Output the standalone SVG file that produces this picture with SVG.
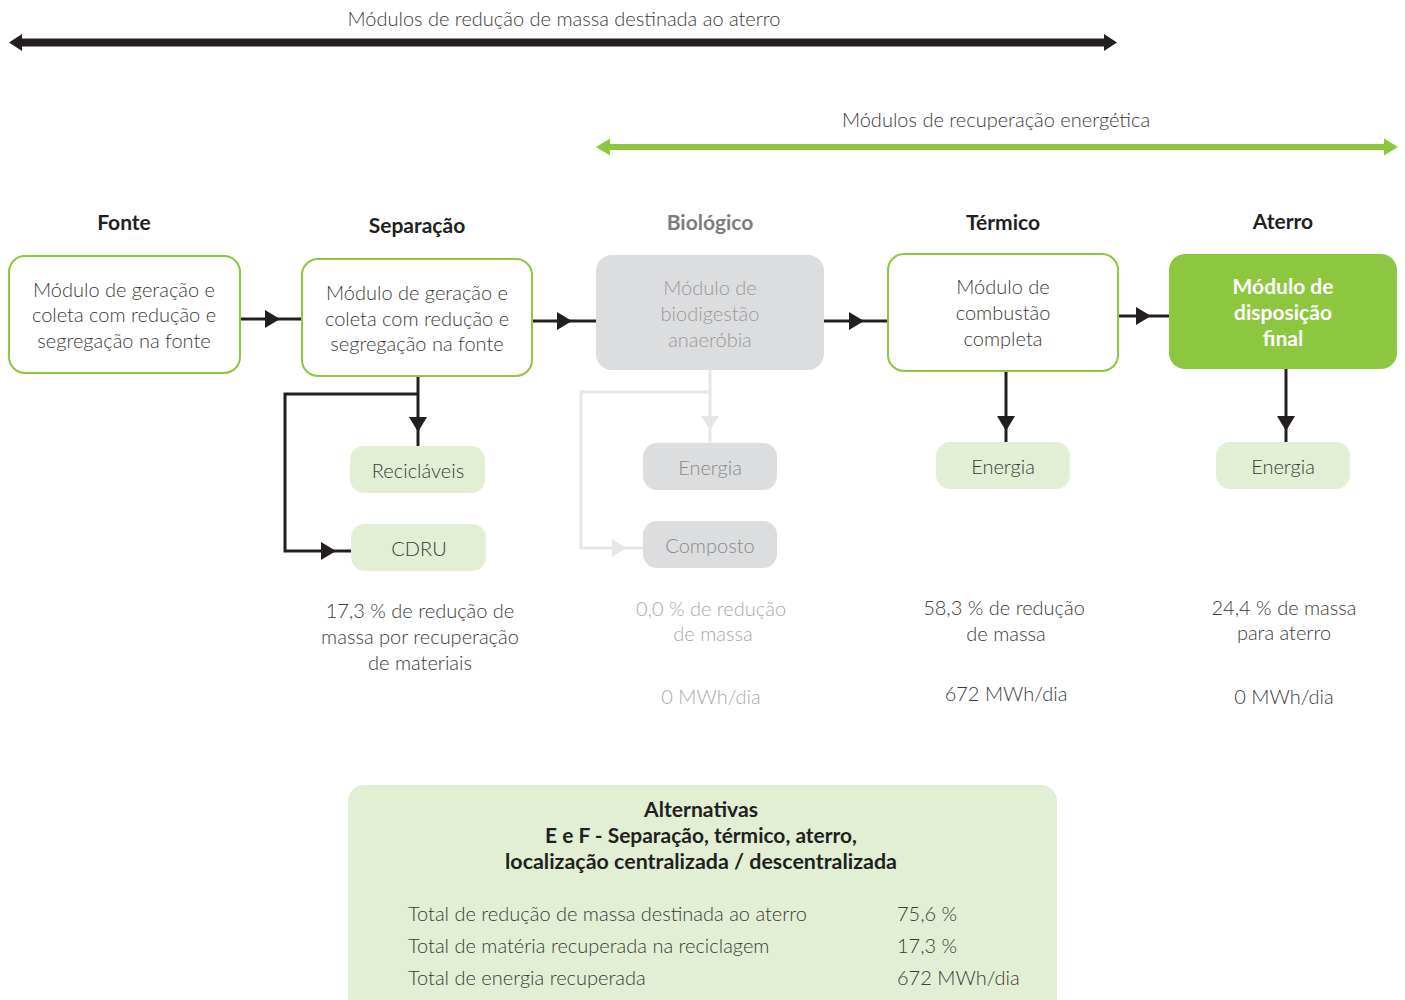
<svg xmlns="http://www.w3.org/2000/svg" width="1405" height="1000" viewBox="0 0 1405 1000">
<style>
  text { font-family: Lato, "Open Sans", "Liberation Sans", sans-serif; }
  .t { font-size: 20px; fill: #3a3a3a; text-anchor: middle; font-weight: 300; }
  .g { font-size: 20px; fill: #a8a8a8; text-anchor: middle; font-weight: 300; }
  .h { font-size: 21px; fill: #231f20; text-anchor: middle; font-weight: 700; }
  .hg { font-size: 21px; fill: #7d7d7d; text-anchor: middle; font-weight: 700; }
  .w { font-size: 21px; fill: #ffffff; text-anchor: middle; font-weight: 700; }
  .l { font-size: 20px; fill: #3a3a3a; font-weight: 300; }
  .box { fill: #ffffff; stroke: #8dc63f; stroke-width: 2; }
  .boxg { fill: #dcdddf; }
  .boxf { fill: #8dc63f; }
  .pill { fill: #e2efd5; }
  .pillg { fill: #dcdddf; }
  .c { fill: none; stroke: #231f20; stroke-width: 3; }
  .cg { fill: none; stroke: #e6e6e6; stroke-width: 3; }
  .ah { fill: #231f20; }
  .ahg { fill: #e6e6e6; }
</style>

<g id="range-arrows">
  <text x="564" y="26" class="t">Módulos de redução de massa destinada ao aterro</text>
  <rect x="20" y="38.500" width="1086" height="8" fill="#231f20"/>
  <polygon points="9,42.500 22,34 22,51" fill="#231f20"/>
  <polygon points="1117,42.500 1104,34 1104,51" fill="#231f20"/>
  <text x="996" y="127" class="t">Módulos de recuperação energética</text>
  <rect x="606" y="144" width="782" height="6" fill="#8dc63f"/>
  <polygon points="596,147 610,138.500 610,155.500" fill="#8dc63f"/>
  <polygon points="1398,147 1384,138.500 1384,155.500" fill="#8dc63f"/>
</g>

<g id="connectors">
  <path class="c" d="M240,319 H302"/>
  <polygon class="ah" points="280,319 265,310 265,328"/>
  <path class="c" d="M532,321 H596"/>
  <polygon class="ah" points="572,321 557,312 557,330"/>
  <path class="c" d="M824,321 H888"/>
  <polygon class="ah" points="864,321 849,312 849,330"/>
  <path class="c" d="M1118,316 H1169"/>
  <polygon class="ah" points="1151,316 1136,307 1136,325"/>

  <path class="c" d="M418,376 V446"/>
  <polygon class="ah" points="418,432 409,417 427,417"/>
  <path class="c" d="M418,394 H285 V551 H351"/>
  <polygon class="ah" points="336,551 321,542 321,560"/>

  <path class="cg" d="M710,370 V443"/>
  <polygon class="ahg" points="710,430 701,416 719,416"/>
  <path class="cg" d="M710,392 H581 V548 H643"/>
  <polygon class="ahg" points="626,548 612,539 612,557"/>

  <path class="c" d="M1006,371 V442"/>
  <polygon class="ah" points="1006,431 997,416 1015,416"/>
  <path class="c" d="M1286,369 V442"/>
  <polygon class="ah" points="1286,431 1277,416 1295,416"/>
</g>

<g id="fonte">
  <text x="124" y="230" class="h">Fonte</text>
  <rect x="9" y="256" width="231" height="117" rx="16" class="box"/>
  <text x="124" y="297" class="t">Módulo de geração e</text>
  <text x="124" y="322" class="t">coleta com redução e</text>
  <text x="124" y="348" class="t">segregação na fonte</text>
</g>

<g id="separacao">
  <text x="417" y="233" class="h">Separação</text>
  <rect x="302" y="259" width="230" height="117" rx="16" class="box"/>
  <text x="417" y="300" class="t">Módulo de geração e</text>
  <text x="417" y="326" class="t">coleta com redução e</text>
  <text x="417" y="351" class="t">segregação na fonte</text>
</g>

<g id="biologico">
  <text x="710" y="230" class="hg">Biológico</text>
  <rect x="596" y="255" width="228" height="115" rx="16" class="boxg"/>
  <text x="710" y="295" class="g" style="fill:#9a9a9a">Módulo de</text>
  <text x="710" y="321" class="g" style="fill:#9a9a9a">biodigestão</text>
  <text x="710" y="347" class="g" style="fill:#9a9a9a">anaeróbia</text>
</g>

<g id="termico">
  <text x="1003" y="230" class="h">Térmico</text>
  <rect x="888" y="254" width="230" height="117" rx="16" class="box"/>
  <text x="1003" y="294" class="t">Módulo de</text>
  <text x="1003" y="320" class="t">combustão</text>
  <text x="1003" y="346" class="t">completa</text>
</g>

<g id="aterro">
  <text x="1283" y="229" class="h">Aterro</text>
  <rect x="1169" y="254" width="228" height="115" rx="16" class="boxf"/>
  <text x="1283" y="294" class="w">Módulo de</text>
  <text x="1283" y="320" class="w">disposição</text>
  <text x="1283" y="346" class="w">final</text>
</g>

<g id="reciclaveis">
  <rect x="350" y="446" width="135" height="47" rx="14" class="pill"/>
  <text x="418" y="478" class="t">Recicláveis</text>
</g>
<g id="cdru">
  <rect x="351" y="524" width="135" height="47" rx="14" class="pill"/>
  <text x="419" y="556" class="t">CDRU</text>
</g>
<g id="energia-bio">
  <rect x="643" y="443" width="134" height="47" rx="14" class="pillg"/>
  <text x="710" y="475" class="g" style="fill:#8a8a8a">Energia</text>
</g>
<g id="composto">
  <rect x="643" y="521" width="134" height="47" rx="14" class="pillg"/>
  <text x="710" y="553" class="g" style="fill:#8a8a8a">Composto</text>
</g>
<g id="energia-termico">
  <rect x="936" y="442" width="134" height="47" rx="14" class="pill"/>
  <text x="1003" y="474" class="t">Energia</text>
</g>
<g id="energia-aterro">
  <rect x="1216" y="442" width="134" height="47" rx="14" class="pill"/>
  <text x="1283" y="474" class="t">Energia</text>
</g>

<g id="resultados">
  <text x="420" y="618" class="t">17,3 % de redução de</text>
  <text x="420" y="644" class="t">massa por recuperação</text>
  <text x="420" y="670" class="t">de materiais</text>
  <text x="711" y="616" class="g">0,0 % de redução</text>
  <text x="713" y="641" class="g">de massa</text>
  <text x="711" y="704" class="g">0 MWh/dia</text>
  <text x="1004" y="615" class="t">58,3 % de redução</text>
  <text x="1006" y="641" class="t">de massa</text>
  <text x="1006" y="701" class="t">672 MWh/dia</text>
  <text x="1284" y="615" class="t">24,4 % de massa</text>
  <text x="1284" y="640" class="t">para aterro</text>
  <text x="1284" y="704" class="t">0 MWh/dia</text>
</g>

<g id="alternativas">
  <rect x="348" y="785" width="709" height="240" rx="16" class="pill"/>
  <text x="701" y="817" class="h" style="font-size:20px" textLength="114" lengthAdjust="spacingAndGlyphs">Alternativas</text>
  <text x="701" y="843" class="h" style="font-size:20px" textLength="312" lengthAdjust="spacingAndGlyphs">E e F - Separação, térmico, aterro,</text>
  <text x="701" y="869" class="h" style="font-size:20px" textLength="392" lengthAdjust="spacingAndGlyphs">localização centralizada / descentralizada</text>
  <text x="408" y="921" class="l">Total de redução de massa destinada ao aterro</text>
  <text x="897" y="921" class="l">75,6 %</text>
  <text x="408" y="953" class="l">Total de matéria recuperada na reciclagem</text>
  <text x="897" y="953" class="l">17,3 %</text>
  <text x="408" y="985" class="l">Total de energia recuperada</text>
  <text x="897" y="985" class="l">672 MWh/dia</text>
</g>
</svg>
